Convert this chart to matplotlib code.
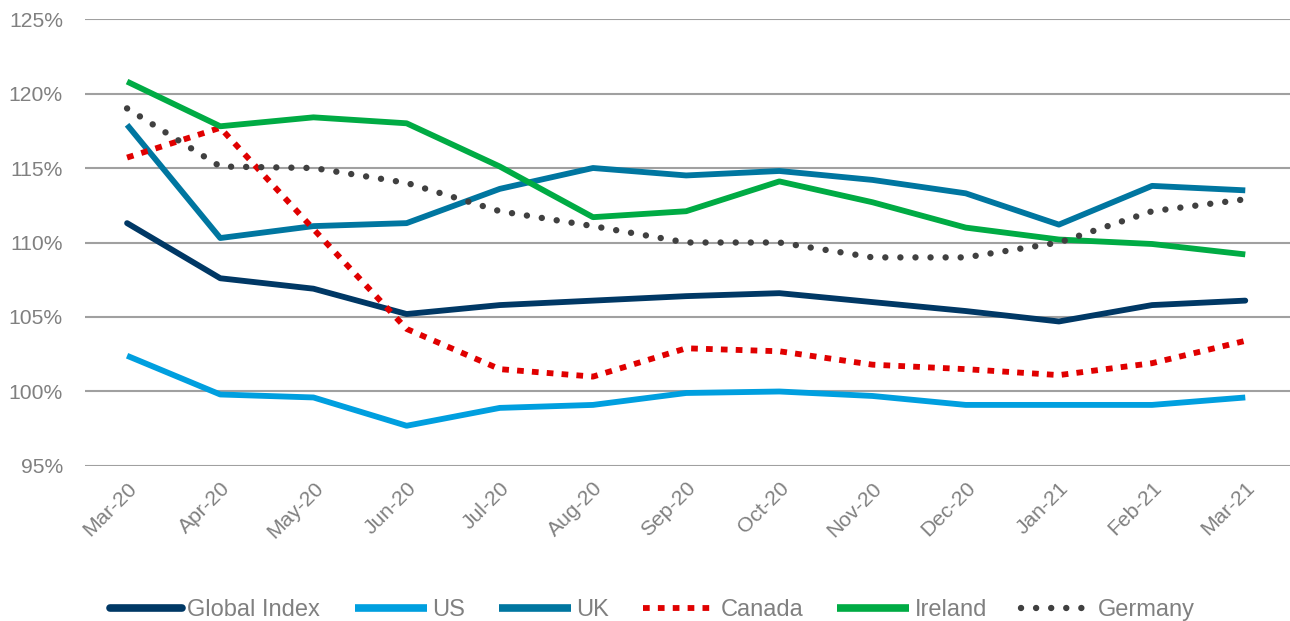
import matplotlib
matplotlib.use("Agg")
import matplotlib.pyplot as plt
from matplotlib.ticker import FuncFormatter

months = ["Mar-20", "Apr-20", "May-20", "Jun-20", "Jul-20", "Aug-20", "Sep-20",
          "Oct-20", "Nov-20", "Dec-20", "Jan-21", "Feb-21", "Mar-21"]

global_index = [111.3, 107.6, 106.9, 105.2, 105.8, 106.1, 106.4, 106.6, 106.0, 105.4, 104.7, 105.8, 106.1]
us = [102.4, 99.8, 99.6, 97.7, 98.9, 99.1, 99.9, 100.0, 99.7, 99.1, 99.1, 99.1, 99.6]
uk = [117.9, 110.3, 111.1, 111.3, 113.6, 115.0, 114.5, 114.8, 114.2, 113.3, 111.2, 113.8, 113.5]
canada = [115.7, 117.7, 110.9, 104.2, 101.5, 101.0, 102.9, 102.7, 101.8, 101.5, 101.1, 101.9, 103.4]
ireland = [120.8, 117.8, 118.4, 118.0, 115.1, 111.7, 112.1, 114.1, 112.7, 111.0, 110.2, 109.9, 109.2]
germany = [119.0, 115.1, 115.0, 114.0, 112.1, 111.1, 110.0, 110.0, 109.0, 109.0, 110.0, 112.1, 112.9]

yticks = [95, 100, 105, 110, 115, 120, 125]

plt.rcParams['font.family'] = ['Liberation Sans', 'DejaVu Sans']

fig = plt.figure(figsize=(12.9, 6.21), dpi=100)
ax = fig.add_axes([0.066, 0.2496, 0.934, 0.7198])

x = list(range(len(months)))
lw = 4.2
ax.plot(x, global_index, color="#003865", lw=lw, solid_capstyle="round", label="Global Index", zorder=3)
ax.plot(x, us, color="#009FDF", lw=lw, solid_capstyle="butt", label="US", zorder=3)
ax.plot(x, uk, color="#0076A0", lw=lw, solid_capstyle="butt", label="UK", zorder=3)
ax.plot(x, canada, color="#E00000", lw=lw, linestyle=(0, (1.15, 1.4)), dash_capstyle="butt", label="Canada", zorder=3)
ax.plot(x, ireland, color="#00AB44", lw=lw, solid_capstyle="butt", label="Ireland", zorder=3)
ax.plot(x, germany, color="#404040", lw=4.6, linestyle=(0, (0.01, 2.35)), dash_capstyle="round", label="Germany", zorder=3)

ax.set_ylim(95, 125)
ax.set_xlim(-0.45, 12.48)
ax.set_yticks(yticks)
ax.yaxis.set_major_formatter(FuncFormatter(lambda v, p: f"{v:.0f}%"))
ax.set_xticks(x)
ax.set_xticklabels(months, rotation=45, ha="right", rotation_mode="anchor")
ax.tick_params(axis="both", length=0, labelcolor="#808080", labelsize=15.2)
ax.tick_params(axis="y", pad=16)
ax.tick_params(axis="x", pad=9)
ax.grid(axis="y", color="#A0A0A0", lw=1.5)
ax.set_axisbelow(True)
for s in ax.spines.values():
    s.set_visible(False)

leg = fig.legend(loc="lower center", ncol=6, bbox_to_anchor=(0.506, -0.035), frameon=False,
                 fontsize=17, handlelength=3.05, handletextpad=0.22, columnspacing=1.45)
for t in leg.get_texts():
    t.set_color("#808080")
for h in leg.get_lines():
    if h.get_linestyle() == "-":
        h.set_linewidth(5.5)

fig.savefig("out.png", dpi=100)
